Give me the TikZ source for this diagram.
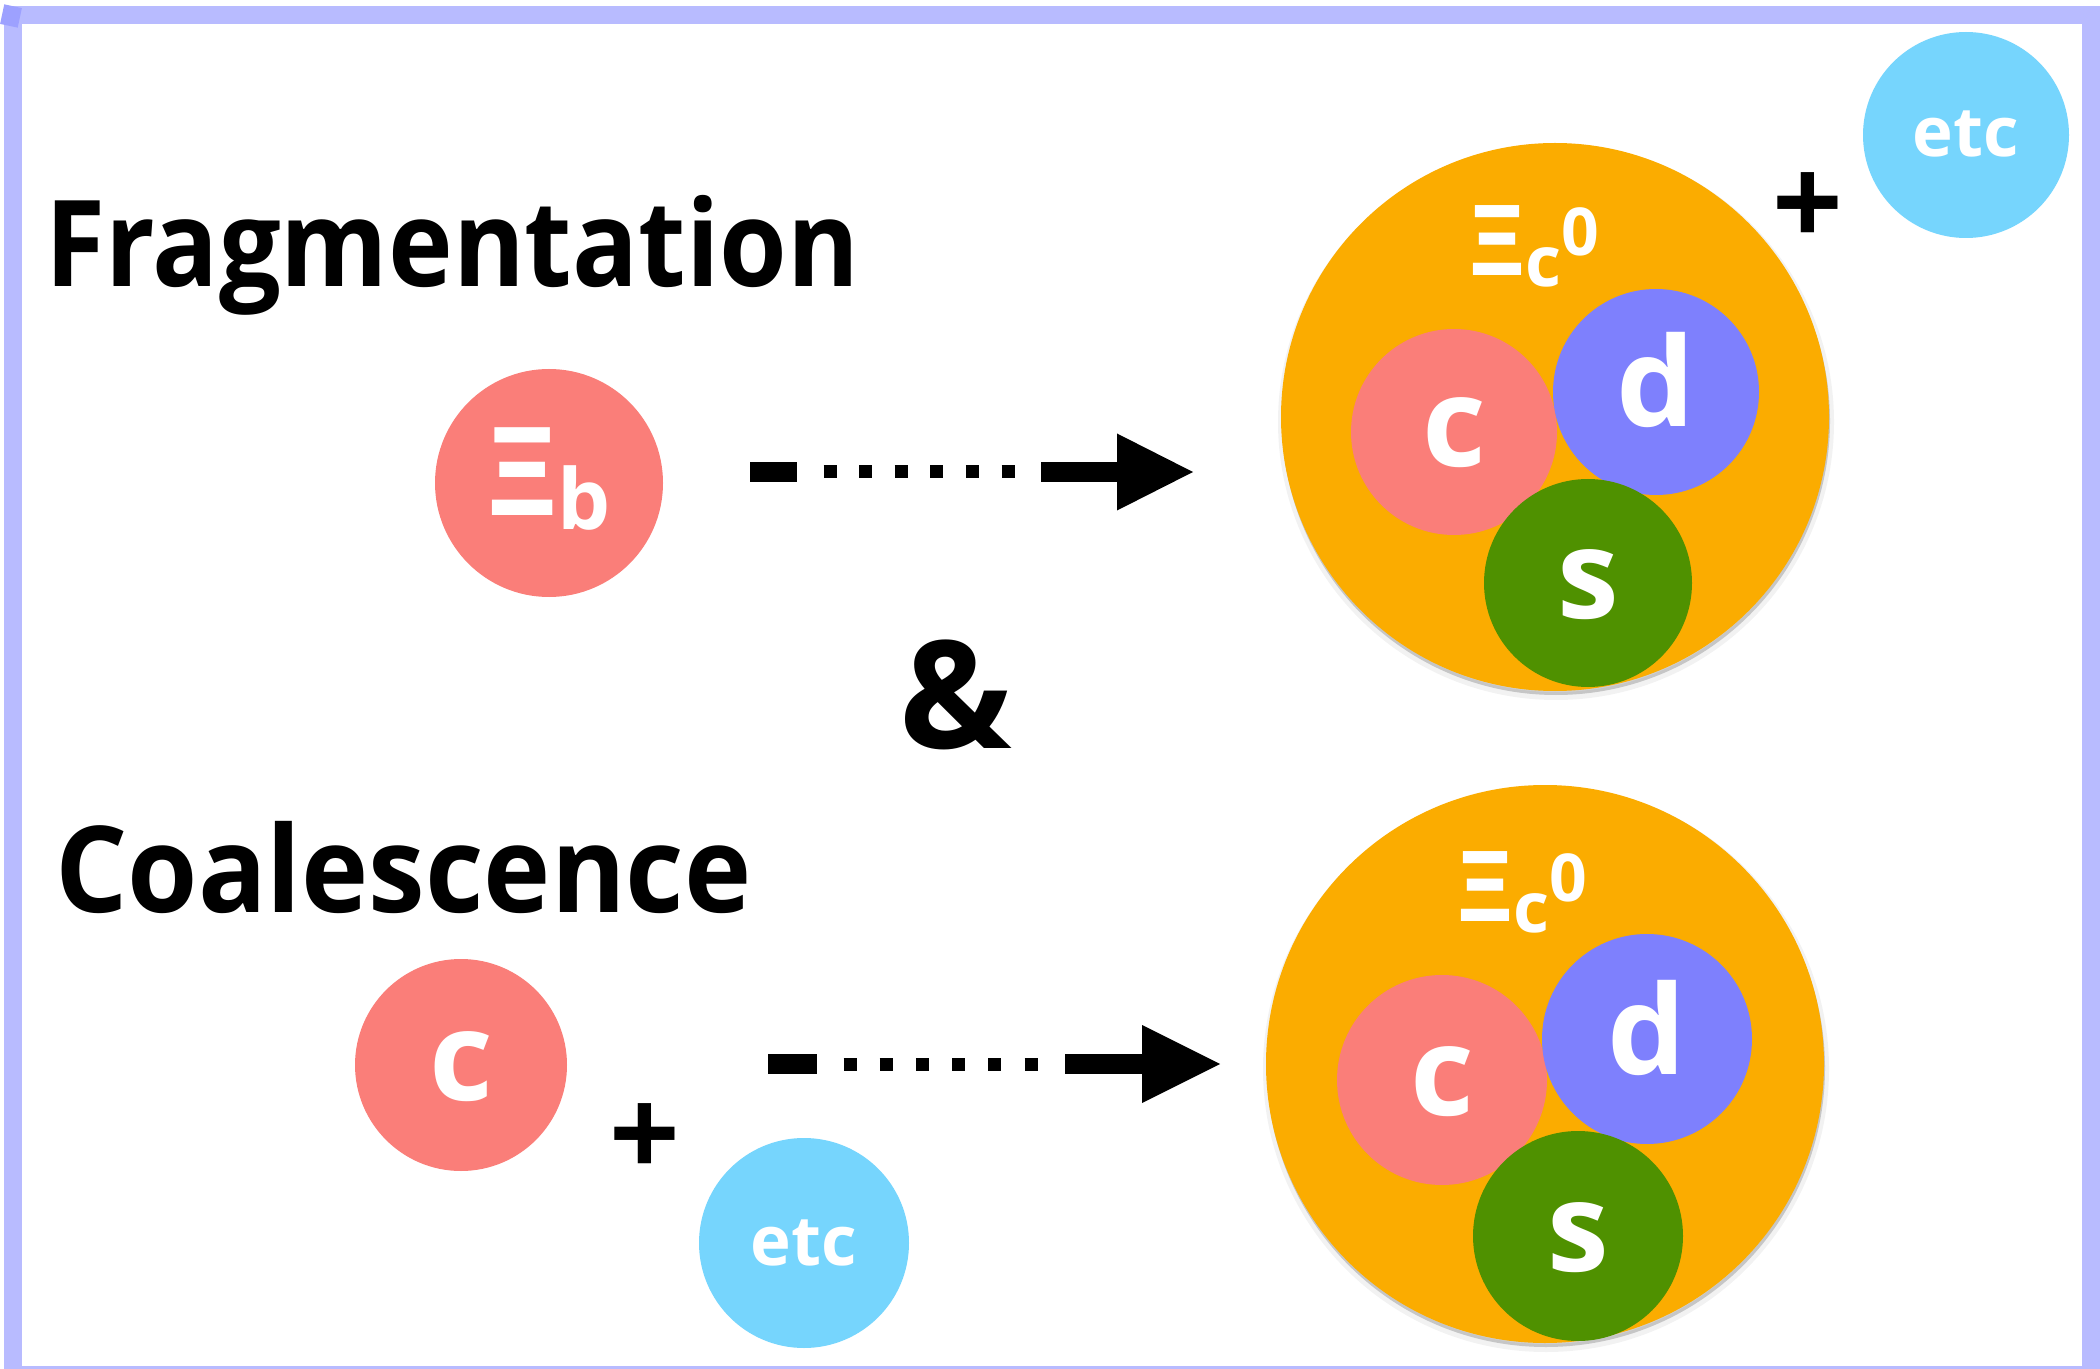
\documentclass[tikz,border=0pt]{standalone}
\usepackage{fontspec}
\setmainfont{Open Sans}
\newfontfamily\fragfont[FakeStretch=0.912]{Open Sans}
\newfontfamily\coalfont[FakeStretch=0.948]{Open Sans}
\usetikzlibrary{arrows.meta}

\definecolor{framecol}{HTML}{B8BBFF}
\definecolor{framedark}{HTML}{9DA1FF}
\definecolor{salmon}{HTML}{FA7E79}
\definecolor{downcol}{HTML}{7E80FD}
\definecolor{strangecol}{HTML}{4F9100}
\definecolor{hadroncol}{HTML}{FBAC00}
\definecolor{etccol}{HTML}{76D5FD}

\newcommand{\fsz}[1]{\fontsize{#1}{#1}\selectfont}

\begin{document}
\begin{tikzpicture}[x=0.5pt, y=-0.5pt,
  ball/.style={circle, inner sep=0pt, text=white, font=\bfseries\fsz{62pt},
    text height=35pt, text depth=0pt},
  charmq/.style={ball, fill=salmon},
  downq/.style={ball, fill=downcol},
  strangeq/.style={ball, fill=strangecol},
  etcball/.style={ball, fill=etccol, font=\bfseries\fsz{34.5pt}, text height=22pt},
  hadron/.style={circle, inner sep=0pt, fill=hadroncol,
    preaction={draw=black, line width=4pt, opacity=0.05, transform canvas={shift={(0.5pt,-2.5pt)}}},
    preaction={fill=black, opacity=0.18, transform canvas={shift={(0.5pt,-2pt)}}}},
  hadronlabel/.style={anchor=base west, inner sep=0pt, text=white, font=\bfseries},
  heading/.style={anchor=base west, inner sep=0pt, font=\bfseries\fsz{60pt}},
  plussign/.style={inner sep=0pt, font=\bfseries\fsz{62pt}},
  arrowbody/.style={line width=10pt, line cap=butt},
  dotrow/.style={line width=6.5pt, line cap=butt},
]
\useasboundingbox (0,0) rectangle (2100,1369);
\fill[white] (0,0) rectangle (2100,1369);

% frame
\fill[framecol] (4,6) rectangle (22,1369);
\fill[framecol] (4,6) rectangle (2100,24);
\fill[framecol] (2082,6) rectangle (2100,1369);
\fill[framecol] (4,1366) rectangle (2100,1369);
\fill[framedark, rotate around={-12:(11,16)}] (2,6) rectangle (20,26);

% ---------- fragmentation ----------
\node[heading] (fragtitle) at (45,287) {\fragfont Fragmentation};

\node[charmq, minimum size=114pt, font=\bfseries\fsz{61.5pt}, text height=33pt] (xib) at (549,483)
  {Ξ\raisebox{-7pt}{\fsz{42pt}b}};

\coordinate (fragtail) at (750,472);
\coordinate (fraghead) at (1193,472);
\coordinate (fragdots) at (823.5,472);
\draw[arrowbody, dash pattern=on 23.5pt off 122pt on 400pt off 10pt,
  -{Triangle[length=38pt, width=38.5pt, line width=0pt]}] (fragtail) -- (fraghead);
\draw[dotrow, dash pattern=on 6.5pt off 11.3pt] (fragdots) -- ++(191,0);

\node[hadron, minimum size=274pt] (fraghadron) at (1555,417) {};
\node[hadronlabel] (fraglabel) at (1469,276)
  {\fsz{49pt}Ξ\raisebox{-5.5pt}{\fsz{35pt}c}\raisebox{10pt}{\fsz{33pt}0}};
\node[charmq, minimum size=103pt] (fragc) at (1454,432) {c};
\node[downq, minimum size=103pt] (fragd) at (1656,392) {d};
\node[strangeq, minimum size=104pt] (frags) at (1588,583) {s};

\node[plussign] (fragplus) at (1808,210) {+};
\node[etcball, minimum size=103pt] (fragetc) at (1966,135) {etc};

% ---------- and ----------
\node[inner sep=0pt, anchor=base, font=\bfseries\fsz{75pt}] (andsign) at (956,748) {\&};

% ---------- coalescence ----------
\node[heading] (coaltitle) at (55,912) {\coalfont Coalescence};

\node[charmq, minimum size=106pt] (coalc) at (461,1065) {c};
\node[plussign] (coalplus) at (645,1141) {+};
\node[etcball, minimum size=105pt] (coaletc) at (804,1243) {etc};

\coordinate (coaltail) at (768,1064);
\coordinate (coalhead) at (1220,1064);
\coordinate (coaldots) at (843.5,1064);
\draw[arrowbody, dash pattern=on 24.5pt off 124pt on 400pt off 10pt,
  -{Triangle[length=39pt, width=39pt, line width=0pt]}] (coaltail) -- (coalhead);
\draw[dotrow, dash pattern=on 6.5pt off 11.6pt] (coaldots) -- ++(194,0);

\node[hadron, minimum size=279pt] (coalhadron) at (1545,1064) {};
\node[hadronlabel] (coallabel) at (1457,921)
  {\fsz{49pt}Ξ\raisebox{-5.5pt}{\fsz{35pt}c}\raisebox{10pt}{\fsz{33pt}0}};
\node[charmq, minimum size=105pt] (coalcq) at (1442,1080) {c};
\node[downq, minimum size=105pt] (coaldq) at (1647,1039) {d};
\node[strangeq, minimum size=105pt] (coalsq) at (1578,1236) {s};
\end{tikzpicture}
\end{document}
